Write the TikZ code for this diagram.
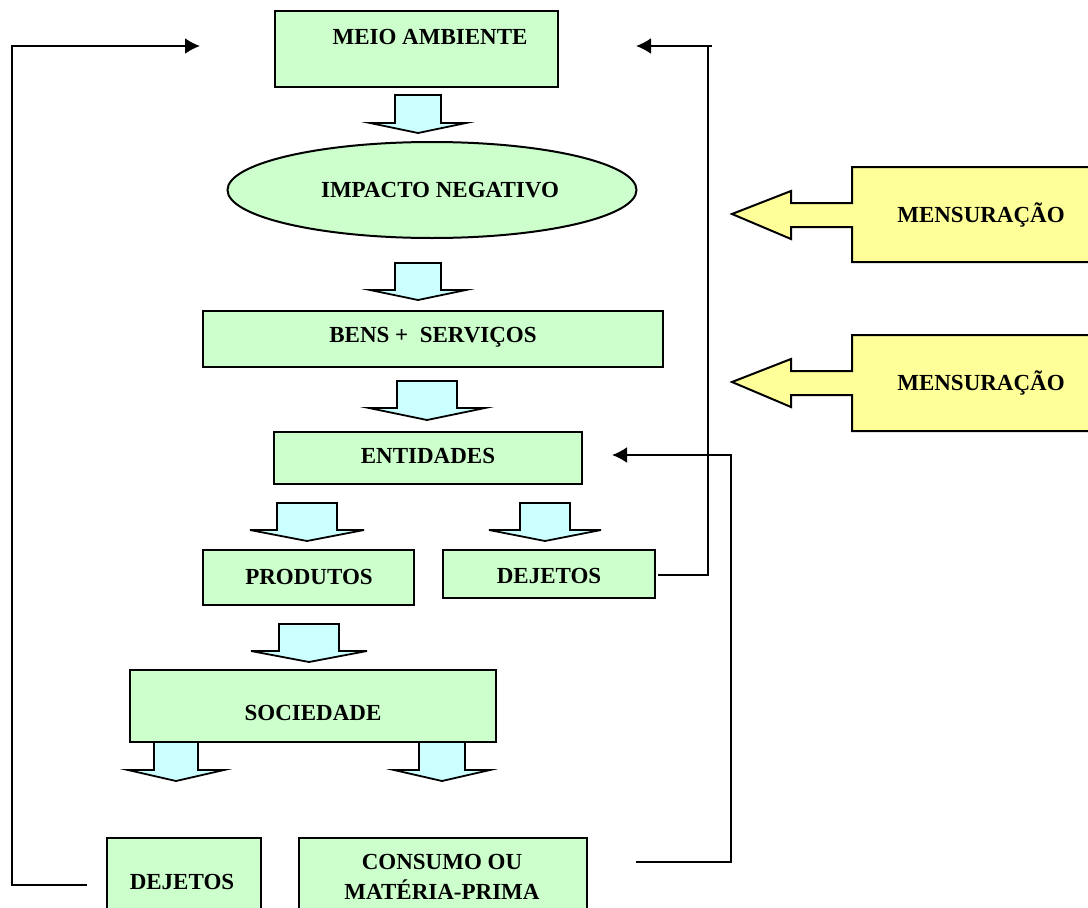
\documentclass[tikz,border=0pt]{standalone}
\usepackage{fontspec}
\setmainfont{Liberation Serif}
\usetikzlibrary{arrows.meta,shapes.geometric}
\definecolor{boxgreen}{HTML}{CCFFCC}
\definecolor{arrowcyan}{HTML}{CCFFFF}
\definecolor{measureyellow}{HTML}{FFFF99}
% wide down-pointing block arrow: centre x, top, head start, tip, shaft half width, head half width
\newcommand{\flowdown}[6]{%
  \draw[blockarrow] (#1-#5,#2) -- (#1+#5,#2) -- (#1+#5,#3) -- (#1+#6,#3) -- (#1,#4)
    -- (#1-#6,#3) -- (#1-#5,#3) -- cycle;}
% left-pointing measurement arrow with a wide body: body top, body bottom, shaft top, shaft bottom, head top, head bottom, tip y
\newcommand{\measurearrow}[7]{%
  \draw[measure] (1100,#1) -- (852,#1) -- (852,#3) -- (791,#3) -- (791,#5) -- (732,#7)
    -- (791,#6) -- (791,#4) -- (852,#4) -- (852,#2) -- (1100,#2) -- cycle;}
\begin{document}
\begin{tikzpicture}[x=1pt,y=-1pt,
  box/.style={draw=black, fill=boxgreen, line width=2pt, rectangle, inner sep=0pt},
  txt/.style={font=\fontsize{23}{30}\selectfont\bfseries, inner sep=0pt, align=center},
  blockarrow/.style={draw=black, fill=arrowcyan, line width=1.8pt, line join=miter},
  measure/.style={draw=black, fill=measureyellow, line width=2pt, line join=miter},
  flow/.style={line width=2pt, -{Latex[length=15pt,width=16pt]}},
  plain/.style={line width=2pt}]
\useasboundingbox (0,0) rectangle (1088,908);
\clip (0,0) rectangle (1088,908);

% boxes
\node[box, minimum width=283, minimum height=76] (meio) at (416.5,49) {};
\node[txt] (meiotxt) at (430,37) {MEIO AMBIENTE};

\node[box, ellipse, minimum width=409, minimum height=96] (impacto) at (432,190) {};
\node[txt] (impactotxt) at (440,190) {IMPACTO NEGATIVO};

\node[box, minimum width=460, minimum height=56] (bens) at (433,339) {};
\node[txt] (benstxt) at (433,337) {BENS +\ \ SERVIÇOS};

\node[box, minimum width=308, minimum height=52] (entidades) at (428,458) {};
\node[txt] (entidadestxt) at (428,456) {ENTIDADES};

\node[box, minimum width=211, minimum height=55] (produtos) at (308.5,577.5) {};
\node[txt] (produtostxt) at (309,577) {PRODUTOS};

\node[box, minimum width=212, minimum height=48] (dejetosa) at (549,574) {};
\node[txt] (dejetosatxt) at (549,576) {DEJETOS};

\node[box, minimum width=366, minimum height=72] (sociedade) at (313,706) {};
\node[txt] (sociedadetxt) at (313,713) {SOCIEDADE};

\node[box, minimum width=154, minimum height=92] (dejetosb) at (184,884) {};
\node[txt] (dejetosbtxt) at (182,882) {DEJETOS};

\node[box, minimum width=288, minimum height=92] (consumo) at (443,884) {};
\node[txt] (consumotxt) at (442,877) {CONSUMO OU\\MATÉRIA-PRIMA};

% flow between levels
\flowdown{418}{95}{123}{133}{23}{48}
\flowdown{418}{263}{290}{300}{23}{48}
\flowdown{427}{381}{408}{420}{30}{58}
\flowdown{307}{503}{530}{541}{30}{57}
\flowdown{545}{503}{530}{541}{25}{56}
\flowdown{309}{624}{651}{662}{30}{58}
\flowdown{176}{742}{770}{781}{22}{48}
\flowdown{442}{742}{770}{781}{23}{48}

% measurement arrows
\measurearrow{167}{262}{203}{227}{191}{239}{214}
\node[txt] (mensa) at (981,215) {MENSURAÇÃO};
\measurearrow{335}{431}{371}{395}{359}{407}{382}
\node[txt] (mensb) at (981,383) {MENSURAÇÃO};

% feedback lines
\coordinate (dejbout) at (87,885);
\coordinate (meioinl) at (200,46);
\draw[flow] (dejbout) -- (12,885) -- (12,46) -- (meioinl);

\coordinate (dejaout) at (658,575);
\coordinate (meioinr) at (636,46);
\draw[plain] (dejaout) -| (708,46);
\draw[flow] (712,46) -- (meioinr);

\coordinate (consout) at (636,862);
\coordinate (entin) at (612,455);
\draw[flow] (consout) -| (731,455) -- (entin);
\end{tikzpicture}
\end{document}
